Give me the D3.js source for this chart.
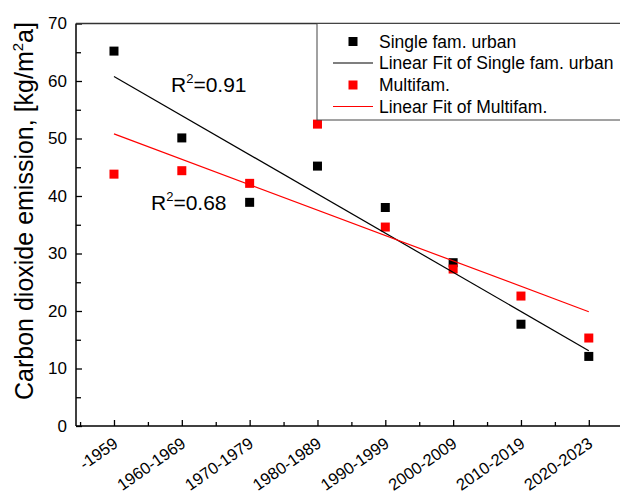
<!DOCTYPE html>
<html>
<head>
<meta charset="utf-8">
<script src="https://cdn.jsdelivr.net/npm/d3@7"></script>
<style>
  body { margin: 0; background: #fff; }
  svg text { font-family: "Liberation Sans", Arial, sans-serif; fill: #000; }
</style>
</head>
<body>
<svg id="chart" width="620" height="495"></svg>
<script>
// Construction periods (x categories)
const periods = ["-1959", "1960-1969", "1970-1979", "1980-1989",
                 "1990-1999", "2000-2009", "2010-2019", "2020-2023"];
// Carbon dioxide emission, kg/m²a
const singleFamUrban = [65.2, 50.1, 38.9, 45.2, 38.0, 28.4, 17.7, 12.1];
const multifam       = [43.8, 44.4, 42.2, 52.5, 34.6, 27.3, 22.6, 15.3];
const yTicks = [0, 10, 20, 30, 40, 50, 60, 70];
const r2Single = "0.91";
const r2Multi = "0.68";

const svg = d3.select("#chart");
const plotL = 76, plotR = 620, plotT = 23.5, plotB = 426;

const x = d3.scaleLinear().domain([0.44, 8.46]).range([plotL, plotR]);
const y = d3.scaleLinear().domain([0, 70]).range([plotB, plotT]);

// least-squares fit over category index
function linFit(vals) {
  const xs = vals.map((_, i) => i + 1);
  const mx = d3.mean(xs), my = d3.mean(vals);
  const sxy = d3.sum(xs, (xi, i) => (xi - mx) * (vals[i] - my));
  const sxx = d3.sum(xs, xi => (xi - mx) ** 2);
  const b = sxy / sxx, a = my - b * mx;
  return [[1, a + b], [vals.length, a + b * vals.length]];
}

const series = [
  { name: "Single fam. urban", fitName: "Linear Fit of Single fam. urban", vals: singleFamUrban, color: "#000000" },
  { name: "Multifam.", fitName: "Linear Fit of Multifam.", vals: multifam, color: "#ff0000" }
];

// Y axis (ticks inward)
const yAxis = d3.axisRight(y).tickValues(yTicks).tickSize(6).tickFormat("");
const yMinor = d3.axisRight(y).tickValues(d3.range(5, 70, 10)).tickSize(5).tickFormat("");
svg.append("g").attr("transform", `translate(${plotL},0)`).call(yAxis)
  .call(g => g.select(".domain").remove())
  .selectAll("line").attr("stroke", "#000").attr("stroke-width", 1.3);
svg.append("g").attr("transform", `translate(${plotL},0)`).call(yMinor)
  .call(g => g.select(".domain").remove())
  .selectAll("line").attr("stroke", "#000").attr("stroke-width", 1.3);

svg.append("g").selectAll("text").data(yTicks).join("text")
  .attr("x", plotL - 9).attr("y", d => y(d)).attr("dy", "0.35em")
  .attr("text-anchor", "end").attr("font-size", 17).text(d => d);

// X axis (ticks inward)
const cats = d3.range(1, periods.length + 1);
const xAxis = d3.axisTop(x).tickValues(cats).tickSize(6).tickFormat("");
const xMinor = d3.axisTop(x).tickValues(d3.range(0.5, periods.length + 0.6, 1)).tickSize(4).tickFormat("");
svg.append("g").attr("transform", `translate(0,${plotB})`).call(xAxis)
  .call(g => g.select(".domain").remove())
  .selectAll("line").attr("stroke", "#000").attr("stroke-width", 1.3);
svg.append("g").attr("transform", `translate(0,${plotB})`).call(xMinor)
  .call(g => g.select(".domain").remove())
  .selectAll("line").attr("stroke", "#000").attr("stroke-width", 1.3);

svg.append("g").selectAll("text").data(periods).join("text")
  .attr("text-anchor", "end").attr("font-size", 16.5)
  .attr("transform", (d, i) => `translate(${x(i + 1) + 5},${plotB + 20}) rotate(-35)`)
  .text(d => d);

// frame
svg.append("line").attr("x1", plotL).attr("x2", plotL).attr("y1", plotT).attr("y2", plotB)
  .attr("stroke", "#000").attr("stroke-width", 1.5);
svg.append("line").attr("x1", plotL).attr("x2", plotR).attr("y1", plotB).attr("y2", plotB)
  .attr("stroke", "#000").attr("stroke-width", 1.5);
svg.append("line").attr("x1", plotL).attr("x2", plotR).attr("y1", plotT).attr("y2", plotT)
  .attr("stroke", "#333").attr("stroke-width", 1.5);

// Y axis title
const yt = svg.append("text").attr("font-size", 25).attr("text-anchor", "middle")
  .attr("transform", `translate(33,211) rotate(-90)`);
yt.append("tspan").text("Carbon dioxide emission, [kg/m");
yt.append("tspan").attr("font-size", 15).attr("dy", -10).text("2");
yt.append("tspan").attr("dy", 10).text("a]");

// markers
const size = 9;
series.forEach(s => {
  svg.append("g").selectAll("rect").data(s.vals).join("rect")
    .attr("x", (d, i) => x(i + 1) - size / 2).attr("y", d => y(d) - size / 2)
    .attr("width", size).attr("height", size).attr("fill", s.color);
});

// fit lines
series.forEach(s => {
  const pts = linFit(s.vals);
  svg.append("path").datum(pts)
    .attr("d", d3.line().x(d => x(d[0])).y(d => y(d[1])))
    .attr("fill", "none").attr("stroke", s.color).attr("stroke-width", 1.2);
});

// R² annotations
function r2(xp, yp, val) {
  const t = svg.append("text").attr("x", xp).attr("y", yp).attr("font-size", 21);
  t.append("tspan").text("R");
  t.append("tspan").attr("font-size", 13).attr("dy", -9).text("2");
  t.append("tspan").attr("dy", 9).text("=" + val);
}
r2(171, 92, r2Single);
r2(151, 210, r2Multi);

// legend
const lg = svg.append("g");
lg.append("rect").attr("x", 317).attr("y", 23.5).attr("width", 320).attr("height", 96.5)
  .attr("fill", "#fff").attr("stroke", "#444").attr("stroke-width", 1);
const rows = [
  { type: "marker", color: series[0].color, label: series[0].name },
  { type: "line", color: series[0].color, label: series[0].fitName },
  { type: "marker", color: series[1].color, label: series[1].name },
  { type: "line", color: series[1].color, label: series[1].fitName }
];
const rowY = [41.5, 63, 85, 106.5];
rows.forEach((r, i) => {
  const cy = rowY[i];
  if (r.type === "marker") {
    lg.append("rect").attr("x", 353 - size / 2).attr("y", cy - size / 2)
      .attr("width", size).attr("height", size).attr("fill", r.color);
  } else {
    lg.append("line").attr("x1", 333).attr("x2", 373).attr("y1", cy).attr("y2", cy)
      .attr("stroke", r.color).attr("stroke-width", 1.2);
  }
  lg.append("text").attr("x", 379).attr("y", cy).attr("dy", "0.35em")
    .attr("font-size", 17.5).text(r.label);
});
</script>
</body>
</html>
